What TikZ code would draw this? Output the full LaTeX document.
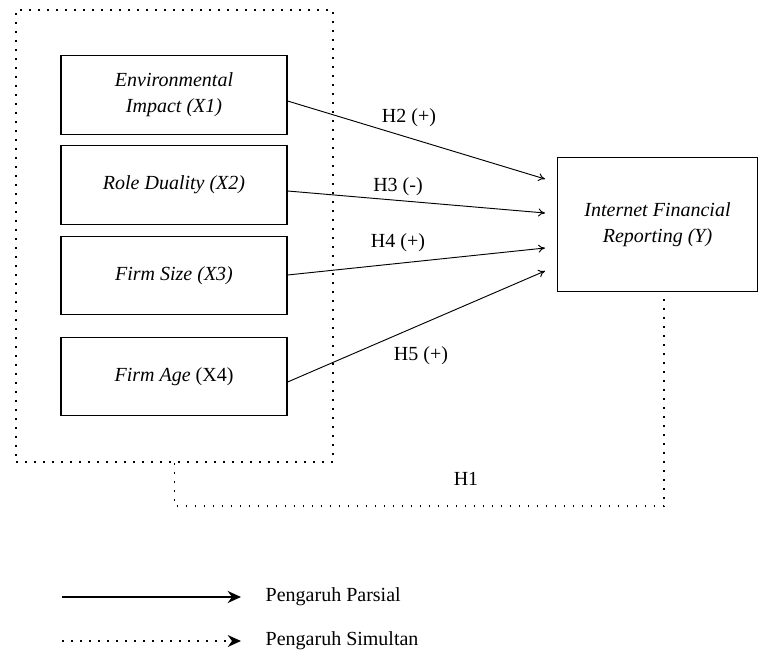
\documentclass[tikz,border=0pt]{standalone}
\usepackage{fontspec}
\setmainfont{Liberation Serif}
\usetikzlibrary{arrows.meta,calc}

\tikzset{
    varbox/.style={draw, line width=0.9pt, minimum width=169.5pt, minimum height=59pt,
        align=center, font=\fontsize{15}{19.5}\selectfont},
    hyp/.style={line width=0.7pt, -{To[length=5pt,width=6pt]}},
    hlabel/.style={font=\fontsize{15}{18}\selectfont},
    simul/.style={line width=1.3pt, dash pattern=on 1.3pt off 5.45pt},
}

\begin{document}
\begin{tikzpicture}[x=0.75pt, y=-0.75pt]
    \useasboundingbox (0,0) rectangle (759,666);

    % independent variables
    \node[simul, draw, minimum width=237.75pt, minimum height=339pt] (frame) at (174.5, 236) {};
    \node[varbox] (env) at (174, 95) {\textit{Environmental}\\\textit{Impact (X1)}};
    \node[varbox] (role) at (174, 185) {\textit{Role Duality (X2)}};
    \node[varbox] (size) at (174, 275.5) {\textit{Firm Size (X3)}};
    \node[varbox] (age) at (174, 376.5) {\textit{Firm Age} (X4)};

    % dependent variable
    \node[varbox, minimum width=150pt, minimum height=101pt] (ifr) at (657.5, 224.5)
        {\textit{Internet Financial}\\\textit{Reporting (Y)}};

    \coordinate (in2) at (545, 179);
    \coordinate (in3) at (545, 213);
    \coordinate (in4) at (545, 248);
    \coordinate (in5) at (545, 271);

    \draw[hyp] ($(env.east)+(0,6)$) -- (in2);
    \draw[hyp] ($(role.east)+(0,6)$) -- (in3);
    \draw[hyp] ($(size.east)+(0,-0.5)$) -- (in4);
    \draw[hyp] ($(age.east)+(0,5.5)$) -- (in5);

    \node[hlabel] (h2) at (409, 118) {H2 (+)};
    \node[hlabel] (h3) at (398, 187) {H3 (-)};
    \node[hlabel] (h4) at (398, 243) {H4 (+)};
    \node[hlabel] (h5) at (421, 356) {H5 (+)};

    % simultaneous effect
    \draw[simul] (frame.south) -- ++(0,43) -| ([xshift=5pt, yshift=-3pt]ifr.south);
    \node[hlabel] (h1) at (466, 479) {H1};

    % legend
    \node[hlabel, anchor=west] (parsial) at (261, 597) {Pengaruh Parsial};
    \node[hlabel, anchor=west] (simultan) at (261, 641) {Pengaruh Simultan};
    \coordinate (p0) at (62, 597);
    \coordinate (s0) at (62, 641);
    \draw[line width=1.5pt, -{Stealth[length=10pt,width=9pt]}] (p0) -- ([xshift=-15pt]parsial.west);
    \draw[simul, line width=1.2pt, -{Stealth[length=10pt,width=9pt,line width=0pt]}] (s0) -- ([xshift=-15pt]simultan.west);
\end{tikzpicture}
\end{document}
